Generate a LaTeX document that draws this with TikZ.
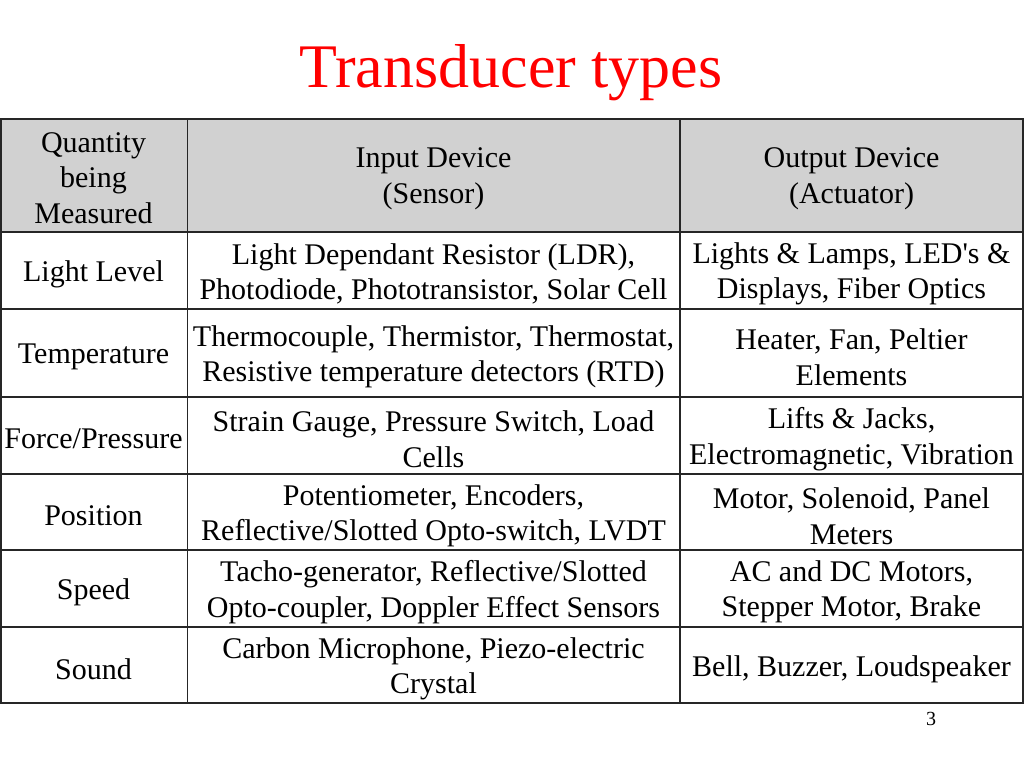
\documentclass[tikz,border=0pt]{standalone}
\usepackage{fontspec}
\setmainfont{Liberation Serif}[Ligatures=TeXOff]
\usepackage{xcolor}

\begin{document}
\begin{tikzpicture}[x=1pt,y=-1pt,
    cell/.style={align=center,inner sep=0pt,font=\fontsize{30}{35.5}\selectfont},
    grid/.style={draw=black!85,line width=1.5pt}]
                    \useasboundingbox (0,0) rectangle (1024,768);

                    % title and page number
                    \node[anchor=base,text=red,font=\fontsize{62}{70}\selectfont] (title) at (511,87) {Transducer types};
                    \node[anchor=base,font=\fontsize{20}{24}\selectfont] (page) at (931,725) {3};

                    % header
                    \fill[black!18] (1,119) rectangle (1023,232);
                    \node[cell] (Q) at (93.5,178) {Quantity\\being\\Measured};
                    \node[cell] (I) at (433.5,179) {Input Device\\(Sensor)};
                    \node[cell] (O) at (851.5,179) {Output Device\\(Actuator)};

                    \node[cell] (Q1) at (93.5,274) {Light Level};
                    \node[cell] (I1) at (433.5,274) {Light Dependant Resistor (LDR),\\Photodiode, Phototransistor, Solar Cell};
                    \node[cell] (O1) at (851.5,274) {Lights \& Lamps, LED's \&\\Displays, Fiber Optics};

                    \node[cell] (Q2) at (93.5,357) {Temperature};
                    \node[cell] (I2) at (433.5,357) {Thermocouple, Thermistor, Thermostat,\\Resistive temperature detectors (RTD)};
                    \node[cell] (O2) at (851.5,357) {Heater, Fan, Peltier\\Elements};

                    \node[cell] (Q3) at (93.5,439) {Force/Pressure};
                    \node[cell] (I3) at (433.5,439) {Strain Gauge, Pressure Switch, Load\\Cells};
                    \node[cell] (O3) at (851.5,439) {Lifts \& Jacks,\\Electromagnetic, Vibration};

                    \node[cell] (Q4) at (93.5,516) {Position};
                    \node[cell] (I4) at (433.5,516) {Potentiometer, Encoders,\\Reflective/Slotted Opto-switch, LVDT};
                    \node[cell] (O4) at (851.5,516) {Motor, Solenoid, Panel\\Meters};

                    \node[cell] (Q5) at (93.5,592) {Speed};
                    \node[cell] (I5) at (433.5,592) {Tacho-generator, Reflective/Slotted\\Opto-coupler, Doppler Effect Sensors};
                    \node[cell] (O5) at (851.5,592) {AC and DC Motors,\\Stepper Motor, Brake};

                    \node[cell] (Q6) at (93.5,669) {Sound};
                    \node[cell] (I6) at (433.5,669) {Carbon Microphone, Piezo-electric\\Crystal};
                    \node[cell] (O6) at (851.5,669) {Bell, Buzzer, Loudspeaker};

                    % grid
                    \draw[grid] (1,119) rectangle (1023,703);
                    \draw[grid] (187.5,119) -- (187.5,703);
                    \draw[grid] (680,119) -- (680,703);
                    \draw[grid] (1,232) -- (1023,232);
                    \draw[grid] (1,309) -- (1023,309);
                    \draw[grid] (1,397) -- (1023,397);
                    \draw[grid] (1,474) -- (1023,474);
                    \draw[grid] (1,550) -- (1023,550);
                    \draw[grid] (1,627) -- (1023,627);
                \end{tikzpicture}
\end{document}
